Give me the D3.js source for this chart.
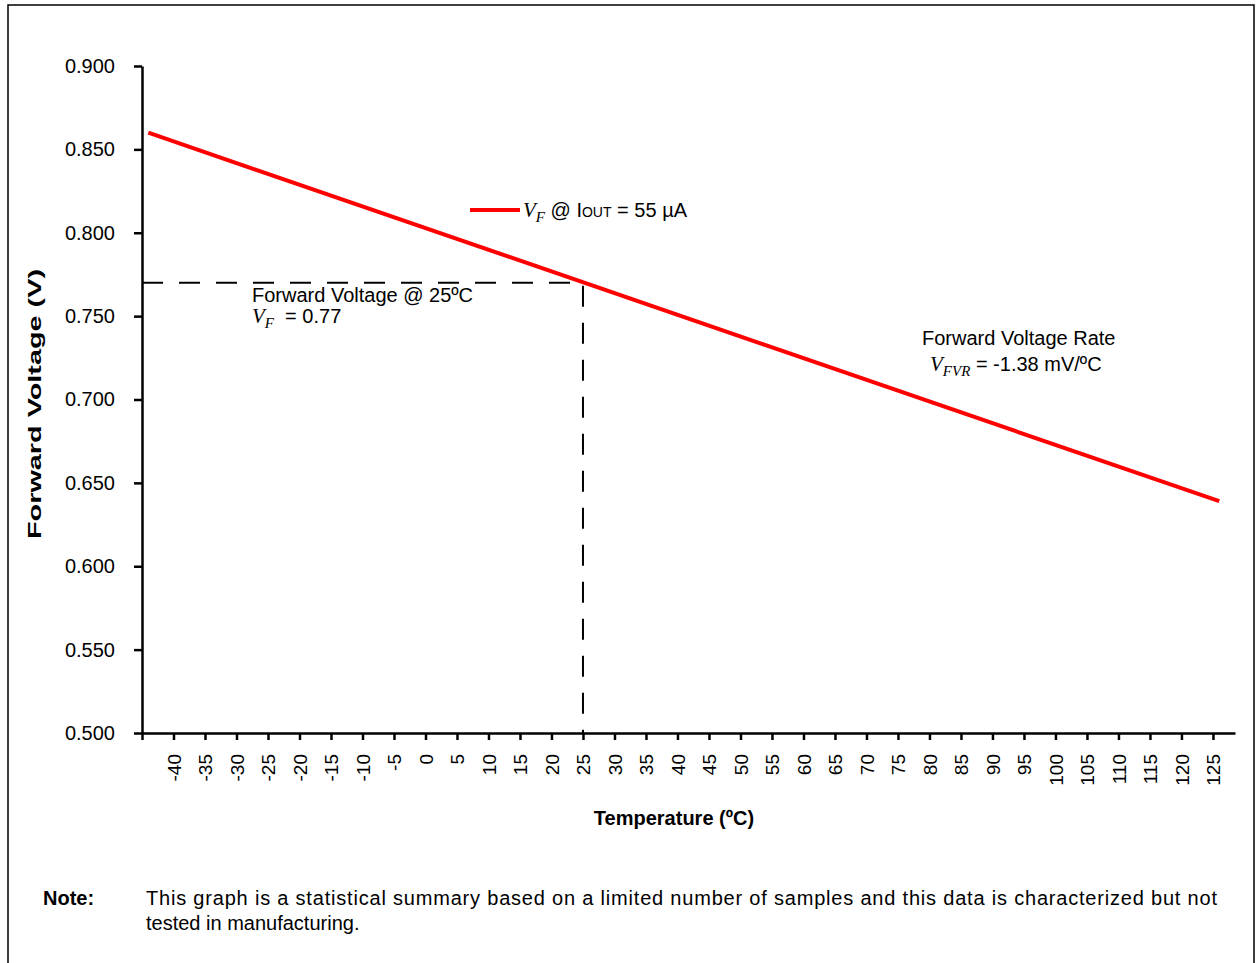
<!DOCTYPE html>
<html lang="en">

<head>
    <meta charset="utf-8">
    <title>Forward Voltage vs Temperature</title>
    <script src="https://d3js.org/d3.v7.min.js"></script>
    <style>
        body { margin: 0; background: #fff; }
        text { font-family: Arial, "Liberation Sans", sans-serif; }
    </style>
</head>

<body>
    <div id="dataviz"></div>
    <script>

        // series values
        var temps = [-44, 126];
        var forwardVolts = [0.860, 0.639];

        // tick labels
        var xTicks = d3.range(-45, 126, 5);
        var yTicks = [0.500, 0.550, 0.600, 0.650, 0.700, 0.750, 0.800, 0.850, 0.900];

        // the 25 degC marker
        var markTemp = 25;
        var markVolt = 0.77;

        var width = 1257, height = 963;
        var serif = "'Liberation Serif', 'DejaVu Serif', serif";

        var svg = d3.select("#dataviz")
            .append("svg")
            .attr("width", width)
            .attr("height", height);

        // outer frame
        svg.append("rect")
            .attr("x", 8).attr("y", 5)
            .attr("width", 1246).attr("height", 1000)
            .style("fill", "none")
            .style("stroke", "black")
            .style("stroke-width", 1.5);

        var x = d3.scaleLinear()
            .domain([-45, 128.5])
            .range([142, 1235]);

        var y = d3.scaleLinear()
            .domain([0.5, 0.9])
            .range([733, 66]);

        // x axis
        var xAxis = svg.append("g")
            .attr("transform", "translate(0," + y(0.5) + ")")
            .call(d3.axisBottom(x).tickValues(xTicks).tickSize(7).tickSizeOuter(0)
                .tickFormat(function (d) { return d === -45 ? "" : d; }));
        xAxis.select(".domain").style("stroke-width", 2.5);
        xAxis.selectAll(".tick line").style("stroke-width", 2.5);
        xAxis.selectAll(".tick text")
            .attr("transform", "rotate(-90)")
            .attr("x", -21).attr("y", 0).attr("dy", "0.35em")
            .style("text-anchor", "end")
            .style("font-size", "19px")
            .style("font-family", "Arial, 'Liberation Sans', sans-serif");

        // y axis
        var yAxis = svg.append("g")
            .attr("transform", "translate(" + x(-45) + ",0)")
            .call(d3.axisLeft(y).tickValues(yTicks).tickSize(8).tickSizeOuter(0).tickFormat(d3.format(".3f")));
        yAxis.select(".domain").style("stroke-width", 2.5);
        yAxis.selectAll(".tick line").style("stroke-width", 2.5);
        yAxis.selectAll(".tick text")
            .attr("x", -27)
            .style("font-size", "20px")
            .style("font-family", "Arial, 'Liberation Sans', sans-serif");

        // dashed guide at 25 degC
        svg.append("path")
            .attr("d", "M" + x(-45) + "," + y(markVolt) + "H" + x(markTemp) + "V" + y(0.5))
            .style("fill", "none")
            .style("stroke", "black")
            .style("stroke-width", 2)
            .style("stroke-dasharray", "21,16");

        // the curve
        var line = d3.line()
            .x(function (d, i) { return x(temps[i]); })
            .y(function (d) { return y(d); });
        svg.append("path")
            .attr("d", line(forwardVolts))
            .style("fill", "none")
            .style("stroke", "#ff0000")
            .style("stroke-width", 4);

        // axis titles
        svg.append("text")
            .attr("transform", "translate(41,404) rotate(-90)")
            .attr("textLength", 270).attr("lengthAdjust", "spacingAndGlyphs")
            .style("text-anchor", "middle")
            .style("font-size", "18px").style("font-weight", "bold")
            .text("Forward Voltage (V)");

        svg.append("text")
            .attr("x", 674).attr("y", 825)
            .style("text-anchor", "middle")
            .style("font-size", "20px").style("font-weight", "bold")
            .text("Temperature (ºC)");

        // italic V with subscript, then plain text
        function symbol(t, sub, rest) {
            t.append("tspan").text("V").style("font-family", serif).style("font-style", "italic").style("font-size", "21px");
            t.append("tspan").text(sub).attr("dy", 5).style("font-family", serif).style("font-style", "italic").style("font-size", "15px");
            t.append("tspan").attr("dy", -5).text(rest);
            return t;
        }

        // legend
        svg.append("line")
            .attr("x1", 470).attr("x2", 520).attr("y1", 210).attr("y2", 210)
            .style("stroke", "#ff0000").style("stroke-width", 4);
        var leg = svg.append("text").attr("x", 523).attr("y", 217).style("font-size", "20px");
        symbol(leg, "F", " @ I");
        leg.append("tspan").text("OUT").style("font-size", "14px");
        leg.append("tspan").text(" = 55 µA");

        // annotation at 25 degC
        svg.append("text").attr("x", 252).attr("y", 302)
            .style("font-size", "20px").text("Forward Voltage @ 25ºC");
        symbol(svg.append("text").attr("x", 252).attr("y", 323).style("font-size", "20px").style("white-space", "pre"),
            "F", "  = 0.77");

        // annotation for the rate
        svg.append("text").attr("x", 922).attr("y", 345)
            .style("font-size", "20px").text("Forward Voltage Rate");
        symbol(svg.append("text").attr("x", 930).attr("y", 371).style("font-size", "20px"),
            "FVR", " = -1.38 mV/ºC");

        // note
        svg.append("text").attr("x", 43).attr("y", 905)
            .style("font-size", "20px").style("font-weight", "bold").text("Note:");
        svg.append("text").attr("x", 146).attr("y", 905)
            .attr("textLength", 1071).attr("lengthAdjust", "spacing")
            .style("font-size", "20px")
            .text("This graph is a statistical summary based on a limited number of samples and this data is characterized but not");
        svg.append("text").attr("x", 146).attr("y", 930)
            .style("font-size", "20px").text("tested in manufacturing.");

    </script>
</body>

</html>
